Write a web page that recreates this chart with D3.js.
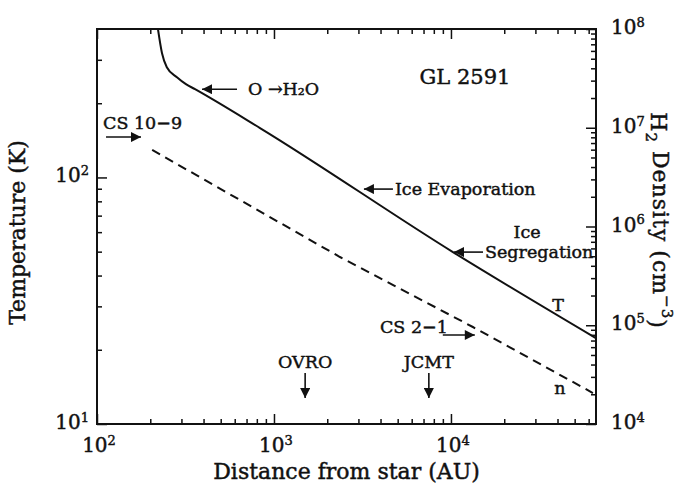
<!DOCTYPE html>
<html>
<head>
<meta charset="utf-8">
<script src="https://cdn.jsdelivr.net/npm/d3@7"></script>
<style>
body { margin: 0; background: #fff; }
text { font-family: "DejaVu Serif", serif; fill: #111; stroke: #111; stroke-width: 0.45; }
.tick line { stroke: #111; stroke-width: 1.5; }
</style>
</head>
<body>
<div id="chart"></div>
<script>
// temperature curve T(r)
var radius = [221, 233, 248, 283, 318, 358, 834, 10260, 65900];
var temperature = [400, 319, 280, 255, 239, 228, 158.6, 49.8, 22.3];

// density curve n(r)
var densityRadius = [205, 2360, 13300, 63400];
var density = [5.96e6, 4.91e5, 9.6e4, 2.06e4];

// tick labels (exponents)
var xExponents = [2, 3, 4];
var tExponents = [1, 2];
var nExponents = [4, 5, 6, 7, 8];

// arrows: tip position in (r, T), direction
var arrowLabels = ["O \u2192H\u2082O", "CS 10\u22129", "Ice Evaporation", "Segregation", "CS 2\u22121", "OVRO", "JCMT"];
var arrowR = [382, 182, 3140, 10140, 14000, 1500, 7500];
var arrowT = [228, 145.8, 89.7, 49.8, 22.96, 12.5, 12.5];
var arrowDir = ["left", "right", "left", "left", "right", "down", "down"];

var svgWidth = 676;
var svgHeight = 487;

var margin = {
    top: 29,
    right: 80,
    bottom: 63,
    left: 97
};

var width = svgWidth - margin.left - margin.right;
var height = svgHeight - margin.top - margin.bottom;

var svg = d3.select("#chart")
    .append("svg")
    .attr("width", svgWidth)
    .attr("height", svgHeight);

var chart = svg.append("g")
    .attr("transform", `translate(${margin.left}, ${margin.top})`);

var xScale = d3.scaleLog().domain([100, 66000]).range([0, width]);
var tScale = d3.scaleLog().domain([10, 400]).range([height, 0]);
var nScale = d3.scaleLog().domain([1e4, 1e8]).range([height, 0]);

function minorTicks(domain) {
    var out = [];
    for (var e = Math.floor(Math.log10(domain[0])); e <= Math.ceil(Math.log10(domain[1])); e++) {
        for (var k = 2; k <= 9; k++) {
            var v = k * Math.pow(10, e);
            if (v > domain[0] && v < domain[1]) out.push(v);
        }
    }
    return out;
}
function majorTicks(domain) {
    var out = [];
    for (var e = Math.ceil(Math.log10(domain[0])); e <= Math.floor(Math.log10(domain[1])); e++) out.push(Math.pow(10, e));
    return out;
}

function addTicks(axisFn, scale, transform) {
    [[majorTicks(scale.domain()), -10], [minorTicks(scale.domain()), -5]].forEach(function (set) {
        var g = chart.append("g")
            .attr("transform", transform)
            .call(axisFn(scale).tickValues(set[0]).tickSize(set[1]).tickFormat(""));
        g.select(".domain").remove();
    });
}
addTicks(d3.axisBottom, xScale, `translate(0, ${height})`);
addTicks(d3.axisTop, xScale, "translate(0, 0)");
addTicks(d3.axisLeft, tScale, "translate(0, 0)");
addTicks(d3.axisRight, nScale, `translate(${width}, 0)`);

chart.append("rect")
    .attr("width", width)
    .attr("height", height)
    .attr("fill", "none")
    .attr("stroke", "#111")
    .attr("stroke-width", 2);

function powerLabel(sel, exp) {
    sel.append("tspan").text("10");
    sel.append("tspan").attr("dy", "-0.55em").attr("font-size", "13px").text(exp);
}

chart.selectAll(".xlab").data(xExponents).enter()
    .append("text")
    .attr("x", d => xScale(Math.pow(10, d)) + 2)
    .attr("y", height + 28)
    .attr("text-anchor", "middle")
    .attr("font-size", "20px")
    .each(function (d) { powerLabel(d3.select(this), d); });

chart.selectAll(".tlab").data(tExponents).enter()
    .append("text")
    .attr("x", -8)
    .attr("y", d => tScale(Math.pow(10, d)) + 5)
    .attr("text-anchor", "end")
    .attr("font-size", "20px")
    .each(function (d) { powerLabel(d3.select(this), d); });

chart.selectAll(".nlab").data(nExponents).enter()
    .append("text")
    .attr("x", width + 15)
    .attr("y", d => nScale(Math.pow(10, d)) + 5)
    .attr("font-size", "20px")
    .each(function (d) { powerLabel(d3.select(this), d); });

// axis titles
svg.append("text")
    .attr("x", margin.left + width / 2)
    .attr("y", 479)
    .attr("text-anchor", "middle")
    .attr("font-size", "22px")
    .text("Distance from star (AU)");

svg.append("text")
    .attr("transform", `translate(25, ${margin.top + height / 2 + 6}) rotate(-90)`)
    .attr("text-anchor", "middle")
    .attr("font-size", "22px")
    .text("Temperature (K)");

var rightTitle = svg.append("text")
    .attr("transform", `translate(651, ${margin.top + height / 2 - 6}) rotate(90)`)
    .attr("text-anchor", "middle")
    .attr("font-size", "22px")
    .attr("letter-spacing", "1px");
rightTitle.append("tspan").text("H");
rightTitle.append("tspan").attr("dy", "0.35em").attr("font-size", "15px").text("2");
rightTitle.append("tspan").attr("dy", "-0.35em").text(" Density (cm");
rightTitle.append("tspan").attr("dy", "-0.55em").attr("font-size", "15px").text("\u22123");
rightTitle.append("tspan").attr("dy", "0.55em").text(")");

// curves
chart.append("clipPath").attr("id", "clip")
    .append("rect").attr("width", width).attr("height", height);

var tLine = d3.line()
    .x(d => xScale(d[0]))
    .y(d => tScale(d[1]))
    .curve(d3.curveMonotoneX);

chart.append("path")
    .datum(d3.zip(radius, temperature))
    .attr("clip-path", "url(#clip)")
    .attr("d", tLine)
    .attr("fill", "none")
    .attr("stroke", "#111")
    .attr("stroke-width", 2);

var nLine = d3.line()
    .x(d => xScale(d[0]))
    .y(d => nScale(d[1]));

chart.append("path")
    .datum(d3.zip(densityRadius, density))
    .attr("clip-path", "url(#clip)")
    .attr("d", nLine)
    .attr("fill", "none")
    .attr("stroke", "#111")
    .attr("stroke-width", 2)
    .attr("stroke-dasharray", "9,6");

// arrows
svg.append("defs").append("marker")
    .attr("id", "head")
    .attr("viewBox", "0 0 10 10")
    .attr("refX", 10)
    .attr("refY", 5)
    .attr("markerWidth", 12)
    .attr("markerHeight", 10)
    .attr("markerUnits", "userSpaceOnUse")
    .attr("orient", "auto")
    .append("path")
    .attr("d", "M0,0L10,5L0,10Z")
    .attr("fill", "#111");

var annot = chart.append("g").attr("font-size", "17.5px");

arrowLabels.forEach(function (label, i) {
    var tx = xScale(arrowR[i]), ty = tScale(arrowT[i]);
    var dir = arrowDir[i];
    var len = dir === "down" ? 27 : (label.indexOf("Ice") >= 0 || label === "Segregation") ? 31 : dir === "right" && label === "CS 2\u22121" ? 34 : 37;
    var sx = dir === "left" ? tx + len : dir === "right" ? tx - len : tx;
    var sy = dir === "down" ? ty - len : ty;
    annot.append("line")
        .attr("x1", sx).attr("y1", sy)
        .attr("x2", tx - (dir === "right" ? 2 : dir === "left" ? -2 : 0))
        .attr("y2", ty - (dir === "down" ? 2 : 0))
        .attr("stroke", "#111")
        .attr("stroke-width", 1.6)
        .attr("marker-end", "url(#head)");
    var t = annot.append("text");
    if (dir === "left") {
        t.attr("x", sx + (i === 0 ? 11 : 2)).attr("y", sy + 6);
    } else if (dir === "down") {
        t.attr("x", sx).attr("y", sy - 5).attr("text-anchor", "middle");
    } else if (i === 1) {
        t.attr("x", sx - 3).attr("y", sy - 8);
    } else {
        t.attr("x", sx + 5).attr("y", sy - 2).attr("text-anchor", "end");
    }
    t.text(label);
});

// "Ice" above "Segregation"
annot.append("text")
    .attr("x", xScale(arrowR[3]) + 75)
    .attr("y", tScale(arrowT[3]) - 14)
    .attr("text-anchor", "middle")
    .text("Ice");

// curve labels
annot.append("text")
    .attr("x", xScale(40300)).attr("y", tScale(30.4) + 6)
    .attr("text-anchor", "middle")
    .text("T");
annot.append("text")
    .attr("x", xScale(41300)).attr("y", tScale(14.0) + 6)
    .attr("text-anchor", "middle")
    .text("n");

chart.append("text")
    .attr("x", 368)
    .attr("y", 55)
    .attr("text-anchor", "middle")
    .attr("font-size", "21px")
    .text("GL 2591");
</script>
</body>
</html>
